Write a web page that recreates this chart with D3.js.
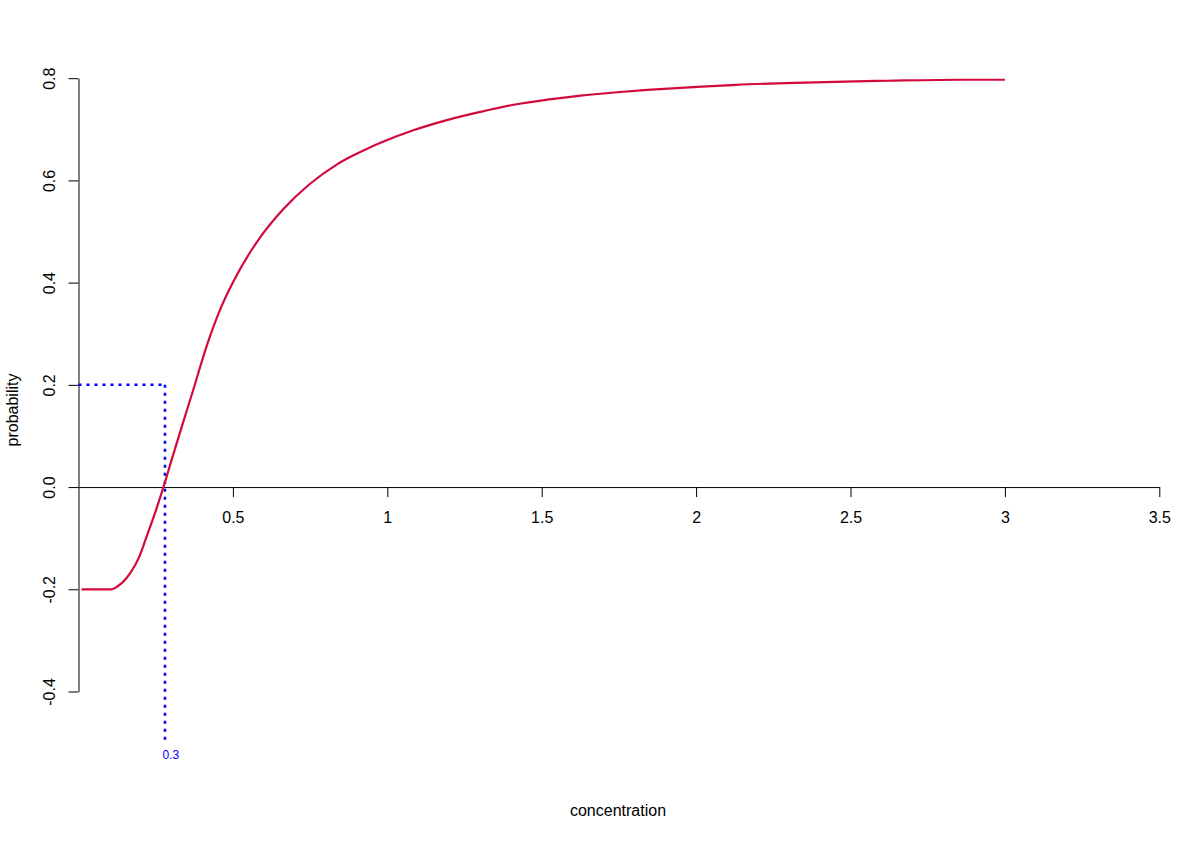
<!DOCTYPE html>
<html>
<head>
<meta charset="utf-8">
<script src="https://cdn.jsdelivr.net/npm/d3@7"></script>
<style>
  html, body { margin: 0; padding: 0; background: #fff; }
  svg { display: block; font-family: "Liberation Sans", Arial, sans-serif; }
</style>
</head>
<body>
<svg id="chart" width="1200" height="841"></svg>
<script>
// ---- data ----
const concentration = [0.01, 0.05, 0.106, 0.125, 0.153, 0.17, 0.197, 0.224, 0.251, 0.275, 0.305, 0.338, 0.37, 0.419, 0.462, 0.511, 0.576, 0.662, 0.749, 0.836, 0.928, 0.976, 1.084, 1.193, 1.301, 1.409, 1.518, 1.626, 1.734, 1.842, 2.004, 2.13, 2.32, 2.45, 2.62, 2.86, 3.0];
const probability   = [-0.2, -0.2, -0.2, -0.195, -0.18, -0.166, -0.136, -0.091, -0.045, 0.0, 0.06, 0.125, 0.187, 0.283, 0.352, 0.413, 0.478, 0.543, 0.593, 0.631, 0.660, 0.673, 0.698, 0.718, 0.734, 0.748, 0.758, 0.766, 0.772, 0.777, 0.783, 0.787, 0.791, 0.793, 0.795, 0.797, 0.797];
const xTicks = [0.5, 1, 1.5, 2, 2.5, 3, 3.5];
const yTicks = [-0.4, -0.2, 0.0, 0.2, 0.4, 0.6, 0.8];
const markerX = 0.28;      // where the curve crosses zero
const markerLevel = 0.2;   // horizontal guide level
const markerBottom = -0.5; // bottom of vertical guide
const markerLabel = "0.3";
const xTitle = "concentration";
const yTitle = "probability";

// ---- drawing ----
const svg = d3.select("#chart");
const x = d3.scaleLinear().domain([0, 3.5]).range([78.5, 1159.3]);
const y = d3.scaleLinear().domain([-0.4, 0.8]).range([691.5, 78.2]);

// x axis at y = 0
const gx = svg.append("g")
  .attr("transform", `translate(0,${y(0)})`)
  .call(d3.axisBottom(x).tickValues(xTicks).tickSize(10).tickSizeOuter(0).tickFormat(d => String(d)));
gx.select(".domain").attr("stroke", "#000");
gx.selectAll(".tick line").attr("stroke", "#000");
gx.selectAll(".tick text")
  .attr("y", 36).attr("dy", null)
  .attr("fill", "#000").style("font-size", "16px")
  .style("font-family", '"Liberation Sans", Arial, sans-serif');

// y axis
const gy = svg.append("g")
  .attr("transform", `translate(${x(0)},0)`)
  .call(d3.axisLeft(y).tickValues(yTicks).tickSize(10).tickSizeOuter(0).tickFormat(d => d.toFixed(1)));
gy.select(".domain").attr("stroke", "#000");
gy.selectAll(".tick line").attr("stroke", "#000");
gy.selectAll(".tick text")
  .attr("x", 0).attr("dy", null).attr("y", 0)
  .attr("text-anchor", "middle")
  .attr("transform", `translate(${55 - x(0)},0) rotate(-90)`)
  .attr("fill", "#000").style("font-size", "16px")
  .style("font-family", '"Liberation Sans", Arial, sans-serif');

// guides (blue dotted)
const guide = svg.append("g")
  .attr("fill", "none").attr("stroke", "#0000FF")
  .attr("stroke-width", 2.5).attr("stroke-dasharray", "3,5");
guide.append("line")
  .attr("x1", x(0)).attr("x2", x(markerX))
  .attr("y1", y(markerLevel)).attr("y2", y(markerLevel));
guide.append("line")
  .attr("x1", x(markerX)).attr("x2", x(markerX))
  .attr("y1", y(markerLevel)).attr("y2", y(markerBottom));

svg.append("text")
  .attr("x", x(markerX) + 6).attr("y", y(markerBottom) + 16)
  .attr("text-anchor", "middle")
  .attr("fill", "#0000FF").style("font-size", "12px")
  .text(markerLabel);

// curve
const pts = concentration.map((c, i) => [c, probability[i]]);
svg.append("path")
  .datum(pts)
  .attr("fill", "none")
  .attr("stroke", "#D20A3C")
  .attr("stroke-width", 2.2)
  .attr("stroke-linejoin", "round")
  .attr("d", d3.line().x(d => x(d[0])).y(d => y(d[1])).curve(d3.curveMonotoneX));

// titles
svg.append("text")
  .attr("x", 618).attr("y", 816)
  .attr("text-anchor", "middle")
  .attr("fill", "#000").style("font-size", "16px")
  .text(xTitle);
svg.append("text")
  .attr("transform", "translate(18,410) rotate(-90)")
  .attr("text-anchor", "middle")
  .attr("fill", "#000").style("font-size", "16px")
  .text(yTitle);
</script>
</body>
</html>
